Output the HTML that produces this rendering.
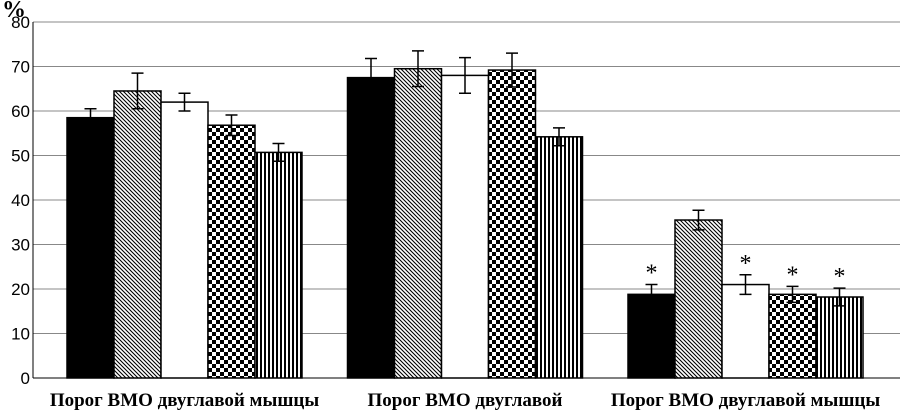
<!DOCTYPE html>
<html><head><meta charset="utf-8"><style>body{margin:0;background:#fff}svg{display:block}</style></head>
<body>
<svg id="chart" width="900" height="410" xmlns="http://www.w3.org/2000/svg" font-family="Liberation Sans, sans-serif">
<defs>
<pattern id="p1" width="4" height="4" patternUnits="userSpaceOnUse"><rect width="4" height="4" fill="#fff"/><path d="M-1,-1 L5,5 M-1,3 L1,5 M3,-1 L5,1" stroke="#000" stroke-width="1.1"/></pattern>
<pattern id="p3" width="8" height="8" patternUnits="userSpaceOnUse"><rect width="8" height="8" fill="#fff"/><rect width="4" height="4" fill="#000"/><rect x="4" y="4" width="4" height="4" fill="#000"/></pattern>
<pattern id="p4" width="4" height="4" patternUnits="userSpaceOnUse"><rect width="4" height="4" fill="#fff"/><rect width="2" height="4" fill="#000"/></pattern>
</defs>
<g id="grid"></g><g id="bars"></g><g id="labels"></g>
</svg>
<script>
const categories=["Порог ВМО двуглавой мышцы","Порог ВМО двуглавой","Порог ВМО двуглавой мышцы"];
const s1=[58.5,67.5,18.8];
const s2=[64.5,69.5,35.5];
const s3=[62,68,21];
const s4=[56.8,69.2,18.8];
const s5=[50.7,54.2,18.2];
const e1=[2,4.3,2.2];
const e2=[4,4,2.2];
const e3=[2,4,2.2];
const e4=[2.3,3.8,1.8];
const e5=[2,2,2];
const stars1=[false,false,true];
const stars2=[false,false,false];
const stars3=[false,false,true];
const stars4=[false,false,true];
const stars5=[false,false,true];
const ticks=[0,10,20,30,40,50,60,70,80];
const NS="http://www.w3.org/2000/svg";
const X0=33,X1=900,Y0=378,Y80=22;
const y=v=>Y0-(Y0-Y80)*v/80;
const gw=280.5;
function mk(t,a,p){const e=document.createElementNS(NS,t);for(const k in a)e.setAttribute(k,a[k]);p.appendChild(e);return e;}
const grid=document.getElementById('grid'),bars=document.getElementById('bars'),lab=document.getElementById('labels');
ticks.forEach(t=>{
 if(t>0){const l=mk('line',{x1:X0,x2:X1,y1:y(t),y2:y(t),stroke:'#888','stroke-width':1},grid);
 
 }
 const tx=mk('text',{x:X0-3,y:y(t)+6,'text-anchor':'end','font-size':17},lab);tx.textContent=t;
 
 
});
const ax=mk('line',{x1:X0,x2:X0,y1:Y80,y2:Y0,stroke:'#000','stroke-width':1},grid);


const ax2=mk('line',{x1:X0,x2:X1,y1:Y0,y2:Y0,stroke:'#000','stroke-width':1},grid);


const pt=mk('text',{x:2,y:17,'font-size':24,'font-weight':'bold','font-family':'Liberation Serif, serif'},lab);pt.textContent='%';


const series=[s1,s2,s3,s4,s5],errs=[e1,e2,e3,e4,e5],stars=[stars1,stars2,stars3,stars4,stars5];
const fills=['#000','url(#p1)','#fff','url(#p3)','url(#p4)'];
const bw=47;
categories.forEach((c,g)=>{
 const gx=67+g*gw;
 series.forEach((s,i)=>{
  const bx=gx+i*bw,v=s[g];
  const r=mk('rect',{x:bx,y:y(v),width:bw,height:Y0-y(v),fill:fills[i],stroke:'#000','stroke-width':1.5},bars);
  
  
  const cx=bx+bw/2,e=errs[i][g];
  const eb=mk('path',{d:`M${cx},${y(v+e)}V${y(v-e)}M${cx-6},${y(v+e)}h12M${cx-6},${y(v-e)}h12`,stroke:'#000','stroke-width':1.5,fill:'none'},bars);
  
  
  if(stars[i][g]){const st=mk('text',{x:cx,y:y(v+e)-4,'text-anchor':'middle','font-size':24,'font-family':'Liberation Serif, serif'},lab);st.textContent='*';
   
   }
 });
 const t=mk('text',{x:gx+bw*2.5,y:406,'text-anchor':'middle','font-size':19,'font-weight':'bold','font-family':'Liberation Serif, Noto Serif CJK SC, serif'},lab);t.textContent=c;
 
 
});
</script>
</body></html>
